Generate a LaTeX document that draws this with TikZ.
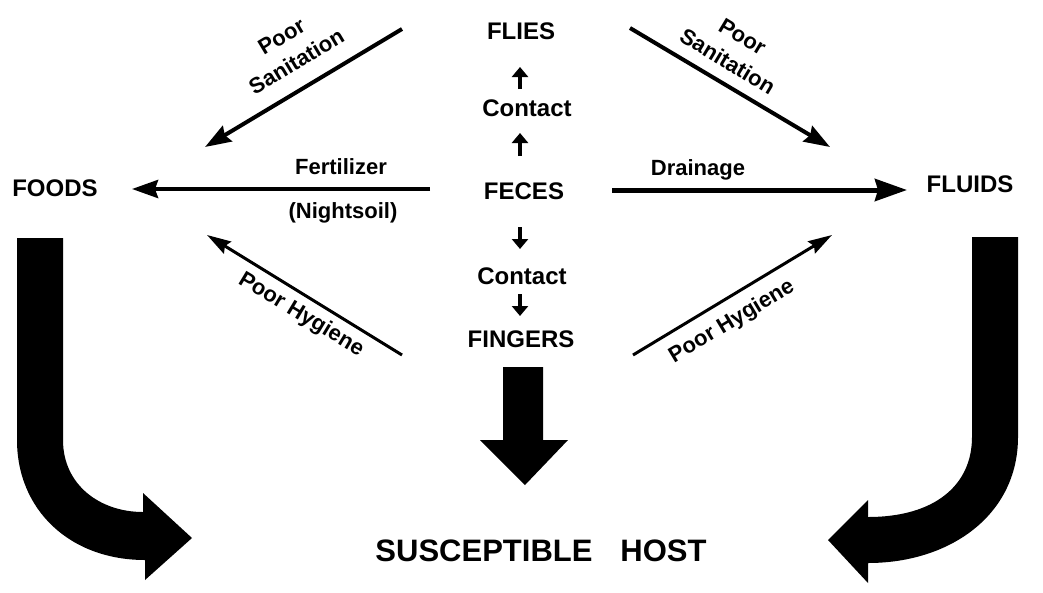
\documentclass[tikz,border=0pt]{standalone}
\usepackage{fontspec}
\setmainfont{Liberation Sans}
\usetikzlibrary{arrows.meta}
\begin{document}
\begin{tikzpicture}[x=1pt,y=-1pt,
  lbl/.style={font=\fontsize{24}{26}\selectfont\bfseries, inner sep=0pt},
  sml/.style={font=\fontsize{22}{29}\selectfont\bfseries, inner sep=0pt, align=center},
  flow/.style={line width=4pt, -{Stealth[length=26pt,width=18pt,inset=3pt]}},
  flowthin/.style={line width=3pt, -{Stealth[length=24pt,width=14pt,inset=3pt]}},
  flowthick/.style={line width=5pt, -{Stealth[length=32pt,width=22pt,inset=3pt]}},
  tiny/.style={line width=4pt, -{Triangle[length=10pt,width=16pt]}},
  block/.style={fill=black}]
\useasboundingbox (0,0) rectangle (1043,592);

% main nodes
\node[lbl] (foods) at (55,188) {FOODS};
\node[lbl] (fluids) at (970,184) {FLUIDS};
\node[lbl] (flies) at (521,31) {FLIES};
\node[lbl] (contact1) at (527,108) {Contact};
\node[lbl] (feces) at (524,191) {FECES};
\node[lbl] (contact2) at (522,276) {Contact};
\node[lbl] (fingers) at (521,339) {FINGERS};
\node[font=\fontsize{31}{33}\selectfont\bfseries, inner sep=0pt] (host) at (541,551) {SUSCEPTIBLE\hspace{0.9em}HOST};

% small vertical arrows
\coordinate (u1s) at (520,89);  \coordinate (u1e) at (520,67);
\coordinate (u2s) at (520,156); \coordinate (u2e) at (520,133);
\coordinate (d1s) at (520,227); \coordinate (d1e) at (520,249);
\coordinate (d2s) at (520,294); \coordinate (d2e) at (520,316);
\draw[tiny] (u1s) -- (u1e);
\draw[tiny] (u2s) -- (u2e);
\draw[tiny] (d1s) -- (d1e);
\draw[tiny] (d2s) -- (d2e);

% diagonal and horizontal arrows
\coordinate (psL1) at (402,29);  \coordinate (psL2) at (205,147);
\coordinate (fer1) at (430,189); \coordinate (fer2) at (132,189);
\coordinate (phL1) at (402,355); \coordinate (phL2) at (207,235);
\coordinate (psR1) at (630,28);  \coordinate (psR2) at (830,147);
\coordinate (dr1)  at (612,190); \coordinate (dr2)  at (907,190);
\coordinate (phR1) at (633,355); \coordinate (phR2) at (832,235);
\draw[flow] (psL1) -- (psL2);
\draw[flow] (fer1) -- (fer2);
\draw[flowthin] (phL1) -- (phL2);
\draw[flow] (psR1) -- (psR2);
\draw[flowthick] (dr1) -- (dr2);
\draw[flowthin] (phR1) -- (phR2);

% labels
\node[sml] (lfert) at (341,167) {Fertilizer};
\node[sml] (lnight) at (343,213) {(Nightsoil)};
\node[sml] (ldrain) at (698,170) {Drainage};
\node[sml, rotate=31] (lpsL) at (289,49) {Poor\\Sanitation};
\node[sml, rotate=-31] (lpsR) at (735,49) {Poor\\Sanitation};
\node[sml, rotate=-31] (lphL) at (301,315) {Poor Hygiene};
\node[sml, rotate=31] (lphR) at (732,322) {Poor Hygiene};

% big block arrows
\fill[block] (503,367) -- (543,367) -- (543,440) -- (568,440) -- (525,485) -- (480,440) -- (503,440) -- cycle;
\fill[block] (17,238) -- (63,238) -- (63,440) .. controls (63,485) and (100,512) .. (143,512)
  -- (143,493) -- (192,538) -- (145,580) -- (145,560)
  .. controls (70,560) and (17,510) .. (17,440) -- cycle;
\fill[block] (1018,237) -- (972,237) -- (972,437) .. controls (972,485) and (935,517) .. (868,517)
  -- (868,500) -- (828,540) -- (868,583) -- (868,563)
  .. controls (950,563) and (1018,515) .. (1018,437) -- cycle;
\end{tikzpicture}
\end{document}
